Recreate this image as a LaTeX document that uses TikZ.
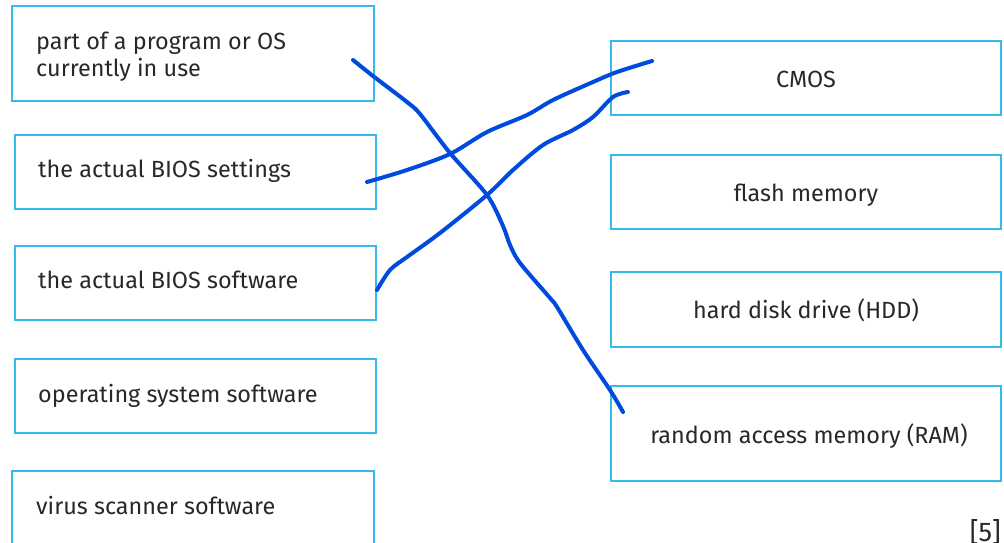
\documentclass[tikz,border=0pt]{standalone}
\usepackage{fontspec}
\setmainfont{Fira Sans}
\definecolor{boxblue}{RGB}{51,187,238}
\definecolor{ink}{RGB}{0,74,222}
\definecolor{txt}{RGB}{40,40,40}
\begin{document}
\begin{tikzpicture}[x=1pt,y=-1pt,
  box/.style={draw=boxblue,line width=1.5pt,inner sep=0pt},
  lbl/.style={text=txt,inner sep=0pt,font=\fontsize{23.4}{28}\selectfont},
  lt/.style={lbl,anchor=base west},
  rt/.style={lbl,anchor=base},
  stroke/.style={draw=ink,line width=4pt,line cap=round,line join=round}]
\useasboundingbox (0,0) rectangle (1004,543);
% left boxes
\node[box,minimum width=362pt,minimum height=95pt] (l1) at (193,53.5) {};
\node[box,minimum width=361pt,minimum height=74pt] (l2) at (195.5,172) {};
\node[box,minimum width=361pt,minimum height=74pt] (l3) at (195.5,283) {};
\node[box,minimum width=361pt,minimum height=74pt] (l4) at (195.5,396) {};
\node[box,minimum width=362pt,minimum height=74pt] (l5) at (193,508) {};
\node[lt] (l1a) at (36,49) {part of a program or OS};
\node[lt] (l1b) at (36,77) {currently in use};
\node[lt] (l2t) at (38,177) {the actual BIOS settings};
\node[lt] (l3t) at (38,288) {the actual BIOS software};
\node[lt] (l4t) at (38,402) {operating system software};
\node[lt] (l5t) at (36,514) {virus scanner software};
% right boxes
\node[box,minimum width=390pt,minimum height=74pt] (r1) at (806,78) {};
\node[box,minimum width=390pt,minimum height=74pt] (r2) at (806,192) {};
\node[box,minimum width=390pt,minimum height=75pt] (r3) at (806,309.5) {};
\node[box,minimum width=390pt,minimum height=95pt] (r4) at (806,433.5) {};
\node[rt] (r1t) at (806,88) {CMOS};
\node[rt] (r2t) at (806,201.5) {flash memory};
\node[rt] (r3t) at (806,318.5) {hard disk drive (HDD)};
\node[rt] (r4t) at (809,443) {random access memory (RAM)};
\node[anchor=base east,text=txt,font=\fontsize{27}{30}\selectfont,inner sep=0pt] (mark) at (1001,541) {[5]};
% hand-drawn connectors
\coordinate (a0) at (353,60);
\coordinate (a1) at (623,412);
\coordinate (b0) at (367,182);
\coordinate (b1) at (652,61);
\coordinate (c0) at (377,290);
\coordinate (c1) at (628,92);
\draw[stroke] plot[smooth,tension=0.5] coordinates {(a0) (373,76) (407,102) (420,114) (450,153) (487,195) (503,226) (510,245) (520,263) (550,298) (557,307) (583,350) (610,390) (a1)};
\draw[stroke] plot[smooth,tension=0.5] coordinates {(b0) (407,170) (450,154) (487,132) (527,115) (553,100) (593,82) (617,72) (b1)};
\draw[stroke] plot[smooth,tension=0.5] coordinates {(c0) (390,270) (407,257) (440,233) (487,195) (513,170) (543,145) (573,130) (593,117) (613,97) (c1)};
\end{tikzpicture}
\end{document}
